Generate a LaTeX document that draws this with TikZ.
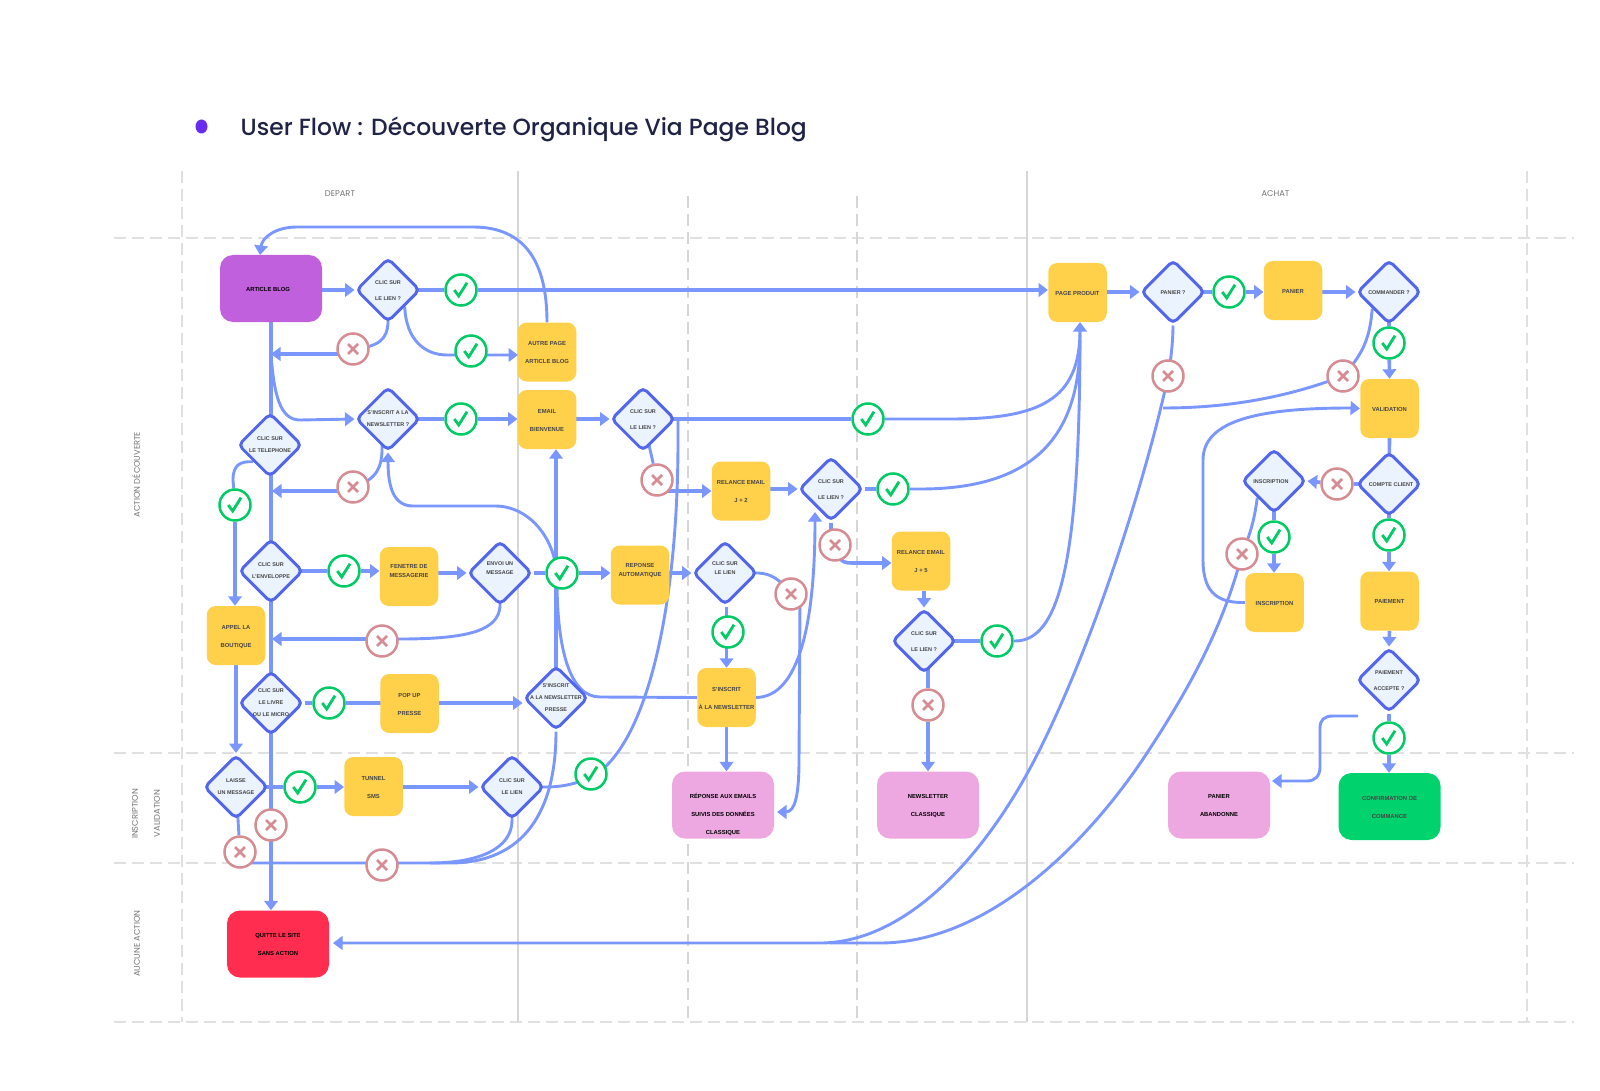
\documentclass[tikz,border=0pt]{standalone}
\usepackage{fontspec}
\setmainfont{Liberation Sans}
\newfontfamily\popfont{Poppins}
\newfontfamily\popmed{Poppins Medium}
\usetikzlibrary{arrows.meta,shapes.geometric,calc}
\definecolor{edgec}{HTML}{7A96FF}
\definecolor{diaF}{HTML}{EBF3FF}
\definecolor{diaD}{HTML}{5367EC}
\definecolor{yel}{HTML}{FFD04A}
\definecolor{purp}{HTML}{C060DC}
\definecolor{pinkb}{HTML}{EDA8E2}
\definecolor{redb}{HTML}{FF2D50}
\definecolor{grnb}{HTML}{00D26E}
\definecolor{okc}{HTML}{00CC66}
\definecolor{koc}{HTML}{D68C92}
\definecolor{gridc}{HTML}{E0E0E0}
\definecolor{gridd}{HTML}{D6D6D6}
\definecolor{inkc}{HTML}{454545}
\definecolor{titlec}{HTML}{1F2447}
\definecolor{dotc}{HTML}{6A2BF0}
\newcommand{\placetxt}[5]{\raisebox{\dimexpr#3-0.4pt\relax}[0pt][0pt]{\makebox[0pt]{\fontsize{#1}{#2}\selectfont\bfseries\begin{tabular}{@{}c@{}}#5\end{tabular}}}}
\newcommand{\boxtxt}[3]{\placetxt{5.85}{#1}{#2}{}{#3}}
\newcommand{\diatxt}[3]{\placetxt{5.45}{#1}{#2}{}{#3}}
\pgfdeclarelayer{grid}
\pgfdeclarelayer{edges}
\pgfsetlayers{grid,edges,main}
\tikzset{
 boxn/.style={rectangle,rounded corners=9pt,minimum width=58.5pt,minimum height=59pt,inner sep=0pt,fill=yel,text=inkc},
 bign/.style={rectangle,rounded corners=13pt,minimum width=102pt,minimum height=67pt,inner sep=0pt,text=black},
 dian/.style={diamond,rounded corners=5pt,minimum width=64pt,minimum height=64pt,inner sep=0pt,fill=diaF,draw=diaD,line width=3pt,text=inkc},
 okb/.style={circle,draw=okc,line width=2.5pt,fill=white,minimum size=31pt,inner sep=0pt,
   path picture={\draw[okc,line width=2.8pt]
     ([shift={(-6.7pt,0pt)}]path picture bounding box.center) --
     ([shift={(-2.3pt,-6pt)}]path picture bounding box.center) --
     ([shift={(6pt,7.3pt)}]path picture bounding box.center);}},
 kob/.style={circle,draw=koc,line width=2.5pt,fill=white,minimum size=31pt,inner sep=0pt,
   path picture={\draw[koc,line width=2.8pt]
     ([shift={(-5pt,-5pt)}]path picture bounding box.center) -- ([shift={(5pt,5pt)}]path picture bounding box.center)
     ([shift={(-5pt,5pt)}]path picture bounding box.center) -- ([shift={(5pt,-5pt)}]path picture bounding box.center);}},
 thk/.style={draw=edgec,line width=3.6pt},
 thn/.style={draw=edgec,line width=2.9pt},
 arr/.style={-{Triangle[length=9.5pt,width=13.5pt]}},
 gdash/.style={draw=gridc,line width=1.7pt,dash pattern=on 12pt off 6pt},
 gsolid/.style={draw=gridd,line width=1.2pt},
 gvd/.style={draw=gridd,line width=1.3pt,dash pattern=on 12pt off 6pt},
 axl/.style={font=\popfont\fontsize{8.3}{10}\selectfont,text=black!55}
}
\begin{document}
\begin{tikzpicture}[x=1pt,y=-1pt]
\useasboundingbox (0,0) rectangle (1600,1091);
% title
\node[ellipse,fill=dotc,minimum width=12pt,minimum height=14pt,inner sep=0pt] (dot) at (201.5,126.5) {};
\node[anchor=west,inner sep=0pt,text=titlec,font=\popmed\fontsize{23.4}{28}\selectfont] (title) at (240.5,129) {User Flow : Découverte Organique Via Page Blog};
\node[axl] (depart) at (340,194) {DEPART};
\node[axl] (achat) at (1275.5,194) {ACHAT};
\node[axl,rotate=90] (l1) at (136,474.5) {ACTION DÉCOUVERTE};
\node[axl,rotate=90] (l2) at (135,814) {INSCRIPTION};
\node[axl,rotate=90] (l3) at (157,813.5) {VALIDATION};
\node[axl,rotate=90] (l4) at (137,943.5) {AUCUNE ACTION};
% grid
\begin{pgfonlayer}{grid}
\foreach \yy in {238,753,863,1022} \draw[gdash] (114,\yy) -- (1574,\yy);
\draw[gdash] (182,171) -- (182,1022);
\draw[gdash] (1527,171) -- (1527,1022);
\draw[gvd] (688,196) -- (688,1022);
\draw[gvd] (857,196) -- (857,1022);
\draw[gsolid] (518,171) -- (518,1022);
\draw[gsolid] (1027,171) -- (1027,1022);
\end{pgfonlayer}
% big boxes
\node[bign,fill=purp] (article) at (271,288.5) {\boxtxt{18}{0pt}{\hspace*{-6pt}ARTICLE BLOG}};
\node[bign,fill=redb] (quitte) at (278,944) {\boxtxt{18}{0pt}{QUITTE LE SITE\\SANS ACTION}};
\node[bign,fill=pinkb] (repm) at (723,805) {\boxtxt{18}{-9pt}{RÉPONSE AUX EMAILS\\SUIVIS DES DONNÉES\\CLASSIQUE}};
\node[bign,fill=pinkb] (news) at (928,805) {\boxtxt{18}{0pt}{NEWSLETTER\\CLASSIQUE}};
\node[bign,fill=pinkb] (aband) at (1219,805) {\boxtxt{18}{0pt}{PANIER\\ABANDONNE}};
\node[bign,fill=grnb,text=inkc] (conf) at (1389.5,806.5) {\boxtxt{18}{0pt}{CONFIRMATION DE\\COMMANCE}};
% boxes
\node[boxn] (autre) at (547,352) {\boxtxt{18}{0pt}{AUTRE PAGE\\ARTICLE BLOG}};
\node[boxn] (email) at (547,419.5) {\boxtxt{18}{0pt}{EMAIL\\BIENVENUE}};
\node[boxn] (fen) at (409,576.5) {\boxtxt{9}{4.5pt}{FENETRE DE\\MESSAGERIE}};
\node[boxn] (appel) at (236,635.5) {\boxtxt{18}{0pt}{APPEL LA\\BOUTIQUE}};
\node[boxn] (popup) at (409.5,703.5) {\boxtxt{18}{0pt}{POP UP\\PRESSE}};
\node[boxn] (tunnel) at (373.5,786.5) {\boxtxt{18}{0pt}{TUNNEL\\SMS}};
\node[boxn] (reponse) at (640,575) {\boxtxt{9}{4pt}{REPONSE\\AUTOMATIQUE}};
\node[boxn] (rel2) at (741,491) {\boxtxt{18}{0pt}{RELANCE EMAIL\\J + 2}};
\node[boxn] (rel5) at (921,561) {\boxtxt{18}{0pt}{RELANCE EMAIL\\J + 5}};
\node[boxn] (sinsc) at (726.5,697.5) {\boxtxt{18}{0pt}{S'INSCRIT\\À LA NEWSLETTER}};
\node[boxn] (page) at (1077.5,292.5) {\boxtxt{18}{0pt}{PAGE PRODUIT}};
\node[boxn] (panier) at (1293,290.5) {\boxtxt{18}{0pt}{PANIER}};
\node[boxn] (valid) at (1389.5,408.5) {\boxtxt{18}{0pt}{VALIDATION}};
\node[boxn] (insb) at (1274.5,602.5) {\boxtxt{18}{0pt}{INSCRIPTION}};
\node[boxn] (paie) at (1389.5,601) {\boxtxt{18}{0pt}{PAIEMENT}};
% diamonds
\node[dian] (lien) at (388,290) {\diatxt{16}{0pt}{CLIC SUR\\LE LIEN ?}};
\node[dian] (sins) at (388,419) {\diatxt{12}{0pt}{S'INSCRIT A LA\\NEWSLETTER ?}};
\node[dian] (tel) at (270,445) {\diatxt{12}{0pt}{CLIC SUR\\LE TELEPHONE}};
\node[dian] (env) at (271,571) {\diatxt{12}{0pt}{CLIC SUR\\L'ENVELOPPE}};
\node[dian] (envoi) at (500,573) {\diatxt{9}{3.8pt}{ENVOI UN\\MESSAGE}};
\node[dian] (livre) at (271,703) {\diatxt{12}{0pt}{CLIC SUR\\LE LIVRE\\OU LE MICRO}};
\node[dian] (presse) at (556,698) {\diatxt{12}{0pt}{S'INSCRIT\\A LA NEWSLETTER\\PRESSE}};
\node[dian] (laisse) at (236,787) {\diatxt{12}{0pt}{LAISSE\\UN MESSAGE}};
\node[dian] (clien) at (512,787) {\diatxt{12}{0pt}{CLIC SUR\\LE LIEN}};
\node[dian] (cl2) at (643,419) {\diatxt{16}{0pt}{CLIC SUR\\LE LIEN ?}};
\node[dian] (cl3) at (725,573) {\diatxt{9}{3.5pt}{CLIC SUR\\LE LIEN}};
\node[dian] (cl4) at (831,489) {\diatxt{16}{0pt}{CLIC SUR\\LE LIEN ?}};
\node[dian] (cl5) at (924,641) {\diatxt{16}{0pt}{CLIC SUR\\LE LIEN ?}};
\node[dian] (pan) at (1173,292) {\diatxt{16}{0pt}{PANIER ?}};
\node[dian] (cmd) at (1389,292) {\diatxt{16}{0pt}{COMMANDER ?}};
\node[dian] (insd) at (1274,481) {\diatxt{16}{0pt}{\hspace*{-6pt}INSCRIPTION}};
\node[dian] (compte) at (1389,484) {\diatxt{16}{0pt}{\hspace*{4pt}COMPTE CLIENT}};
\node[dian] (acc) at (1389,680) {\diatxt{16}{0pt}{PAIEMENT\\ACCEPTE ?}};
% badges ok
\node[okb] (ok1) at (461,290) {};
\node[okb] (ok2) at (471,351) {};
\node[okb] (ok3) at (461,419) {};
\node[okb] (ok4) at (235,505) {};
\node[okb] (ok5) at (344,571) {};
\node[okb] (ok6) at (562,573) {};
\node[okb] (ok7) at (329,703) {};
\node[okb] (ok8) at (300,787) {};
\node[okb] (ok9) at (591,774) {};
\node[okb] (ok10) at (868,419) {};
\node[okb] (ok11) at (893,489) {};
\node[okb] (ok12) at (728,632) {};
\node[okb] (ok13) at (997,641) {};
\node[okb] (ok14) at (1229,292) {};
\node[okb] (ok15) at (1389,343) {};
\node[okb] (ok16) at (1274,537) {};
\node[okb] (ok17) at (1389,535) {};
\node[okb] (ok18) at (1389,738) {};
% badges ko
\node[kob] (ko1) at (353,349) {};
\node[kob] (ko2) at (353,487) {};
\node[kob] (ko3) at (382,641) {};
\node[kob] (ko4) at (271,825) {};
\node[kob] (ko5) at (240,852) {};
\node[kob] (ko6) at (382,865) {};
\node[kob] (ko7) at (657,480) {};
\node[kob] (ko8) at (791,594) {};
\node[kob] (ko9) at (835,545) {};
\node[kob] (ko10) at (928,705) {};
\node[kob] (ko11) at (1168,376) {};
\node[kob] (ko12) at (1343,376) {};
\node[kob] (ko13) at (1337,484) {};
\node[kob] (ko14) at (1242,554) {};
% free coordinates
\coordinate (vtop) at (271,354);
\coordinate (accfree) at (1358,716);
\coordinate (pinj) at (1163,408);
\coordinate (qin) at (333,943);
\begin{pgfonlayer}{edges}
% first column
\draw[thk,arr] (article.east |- lien.west) -- (lien.west);
\draw[thk,arr] (lien.center) -- (ok1) -- (lien.east -| page.west);
\draw[thn] (lien.center) -- (lien.south) .. controls (387,338) and (380,347) .. (ko1.center);
\draw[thk,arr] (ko1.center |- vtop) -- (vtop);
\draw[thn,arr] (lien.south east) .. controls (406,340) and (425,355) .. (447,355) -- (518,355);
\draw[thn,arr] (autre.north) .. controls (547,262) and (525,227) .. (473,227) -- (297,227) .. controls (275,227) and (262,238) .. (260,255);
\draw[draw=edgec,line width=3.2pt,arr] (article.south) -- (article.south |- quitte.north);
\draw[thn,arr] (vtop) .. controls (274,395) and (280,420) .. (300,420) -- (sins.west);
\draw[thk,arr] (sins.center) -- (ok3) -- (sins.east -| email.west);
\draw[thn] (382,440) -- (382,449) .. controls (382,465) and (378,480) .. (ko2.center);
\draw[thk,arr] (ko2.center |- 0,491) -- (272,491);
\draw[thn,arr] (sinsc.west) -- (600,697) .. controls (570,697) and (557,650) .. (557,580) .. controls (557,540) and (530,506) .. (495,506) -- (413,506) .. controls (395,506) and (388,490) .. (sins.south);
\draw[thk,arr] (presse.center) -- (presse.north |- email.south);
\draw[thn] (tel.south west) .. controls (240,461) and (233,465) .. (233,480) -- (ok4);
\draw[thk,arr] (ok4) -- (ok4 |- appel.north);
\draw[thk,arr] (env.center) -- (ok5) -- (env.east -| fen.west);
\draw[thk,arr] (fen.east |- envoi.west) -- (envoi.west);
\draw[thk,arr] (envoi.east) -- (ok6) -- (envoi.east -| reponse.west);
\draw[thn] (envoi.center) -- (envoi.south) .. controls (498,630) and (470,639) .. (400,639) -- (ko3.center |- 0,639);
\draw[thk,arr] (ko3.center |- 0,639) -- (272,639);
\draw[thk,arr] (appel.south) -- (appel.south |- 0,753);
\draw[thk,arr] (livre.east) -- (ok7) -- (popup.center |- livre.east) -- (livre.east -| presse.west);
\draw[thn] (presse.south) .. controls (556,810) and (525,863) .. (450,863) -- (ko5.center |- 0,863);
\draw[thn] (clien.center) -- (clien.south) .. controls (512,848) and (480,863) .. (430,863);
\draw[thn] (laisse.center) -- (ko5);
\draw[thk,arr] (laisse.center) -- (ok8) -- (laisse.east -| tunnel.west);
\draw[thk,arr] (tunnel.east |- clien.west) -- (clien.west);
\draw[thn] (clien.center) -- (clien.east) .. controls (570,787) and (590,780) .. (605,767) .. controls (650,725) and (678,600) .. (678,440) -- (678,419);
% email row
\draw[thk,arr] (email.east |- cl2.west) -- (cl2.west);
\draw[thk] (cl2.center) -- (ok10);
\draw[thn] (ok10) -- (950,419) .. controls (1040,419) and (1080,400) .. (1080,330);
\draw[thn] (cl2.center) -- (ko7);
\draw[thk,arr] (ko7.center |- rel2.west) -- (rel2.west);
\draw[thk,arr] (rel2.east |- cl4.west) -- (cl4.west);
\draw[thk] (cl4.east) -- (ok11);
\draw[thn] (ok11) -- (920,489) .. controls (1030,489) and (1080,440) .. (1080,340);
\draw[thk] (cl4.south) -- (cl4.south |- ko9);
\draw[thk,arr] (ko9) -- (840,558) .. controls (842,562) and (846,563) .. (852,563) -- (rel5.west |- 0,563);
\draw[thk,arr] (cl5.north |- rel5.south) -- (cl5.north);
\draw[thk] (cl5.center) -- (ok13);
\draw[thn,arr] (ok13) -- (1015,641) .. controls (1060,641) and (1080,560) .. (1080,322);
\draw[thk,arr] (ko10 |- cl5.center) -- (ko10) -- (news.north);
\draw[thk,arr] (reponse.east |- cl3.west) -- (cl3.west);
\draw[thn] (cl3.center) -- (cl3.east) .. controls (770,574) and (778,577) .. (ko8.center);
\draw[thn,arr] (800,600) -- (799,760) .. controls (799,795) and (795,812) .. (777,812);
\draw[thk,arr] (sinsc.north |- cl3.south) -- (sinsc.north);
\draw[thk,arr] (sinsc.south) -- (repm.north -| sinsc.south);
\draw[thn,arr] (sinsc.east) .. controls (800,697) and (815,620) .. (815,512);
% right part
\draw[thk,arr] (page.east |- pan.west) -- (pan.west);
\draw[thk,arr] (pan.center) -- (ok14) -- (pan.east -| panier.west);
\draw[thk,arr] (panier.east |- cmd.west) -- (cmd.west);
\draw[thk,arr] (cmd.center) -- (ok15) -- (valid.north);
\draw[thn] (pan.south) .. controls (1173,340) and (1171,360) .. (ko11.center);
\draw[thn,arr] (ko11.center) .. controls (1155,440) and (1105,620) .. (1038,753) .. controls (985,858) and (905,943) .. (820,943) -- (qin);
\draw[thn] (cmd.south west) .. controls (1370,335) and (1365,352) .. (ko12.center);
\draw[thn] (ko12.center) .. controls (1280,400) and (1220,408) .. (pinj);
\draw[thk] (valid.south) -- (compte.center);
\draw[thk,arr] (compte.center) -- (ko13) -- (insd.east);
\draw[thk,arr] (insd.center) -- (ok16) -- (insd.south |- insb.north);
\draw[thk,arr] (compte.center) -- (ok17) -- (compte.south |- paie.north);
\draw[thk,arr] (paie.south) -- (acc.north);
\draw[thk,arr] (acc.south) -- (ok18) -- (acc.south |- conf.north);
\draw[thn,arr] (accfree) -- (1333,716) .. controls (1324,716) and (1320,720) .. (1320,728) -- (1320,767) .. controls (1320,776) and (1315,781) .. (1307,781) -- (1272,781);
\draw[thn,arr] (insb.west) .. controls (1220,603) and (1203,595) .. (1203,560) -- (1203,460) .. controls (1203,420) and (1260,408) .. (1350,408) -- (valid.west);
\draw[thn] (insd.south west) .. controls (1255,515) and (1252,530) .. (ko14.center);
\draw[thn] (ko14.center) .. controls (1225,620) and (1195,680) .. (1147,753) .. controls (1090,840) and (990,943) .. (880,943) -- (830,943);
\end{pgfonlayer}
\end{tikzpicture}
\end{document}
